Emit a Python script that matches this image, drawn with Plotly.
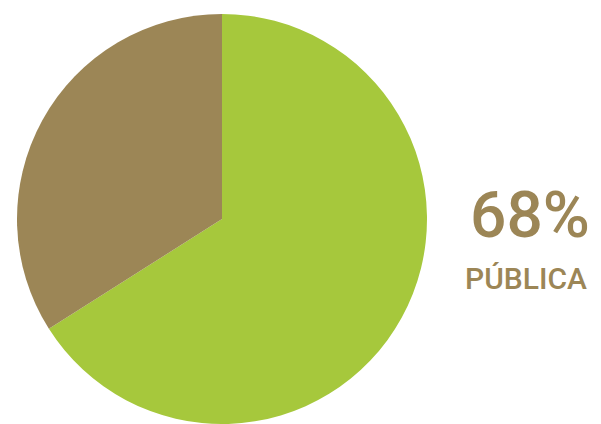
import plotly.graph_objects as go

labels = ["Pública", "Privada"]
values = [66, 34]
colors = ["#a6c83c", "#9c8656"]
big_text = "68%"
sub_text = "PÚBLICA"

W, H = 601, 424
cx, cy, r = 222, 219, 205

fig = go.Figure(go.Pie(
    labels=labels, values=values, sort=False, direction="clockwise", rotation=0,
    marker=dict(colors=colors, line=dict(width=0)),
    textinfo="none", hoverinfo="label+percent", showlegend=False,
    domain=dict(x=[(cx - r) / W, (cx + r) / W], y=[max(0, (H - cy - r) / H), (H - cy + r) / H]),
))

fig.add_annotation(x=530 / W, y=(H - 215) / H, xref="paper", yref="paper",
                   text=big_text, showarrow=False, xanchor="center", yanchor="middle",
                   font=dict(family="Roboto", size=64, color="#9c8656", weight=500))
fig.add_annotation(x=526 / W, y=(H - 278) / H, xref="paper", yref="paper",
                   text=sub_text, showarrow=False, xanchor="center", yanchor="middle",
                   font=dict(family="Roboto", size=30, color="#9c8656", weight=500))

fig.update_layout(width=W, height=H, margin=dict(l=0, r=0, t=0, b=0),
                  paper_bgcolor="white", plot_bgcolor="white")
fig.write_html("out.html")
